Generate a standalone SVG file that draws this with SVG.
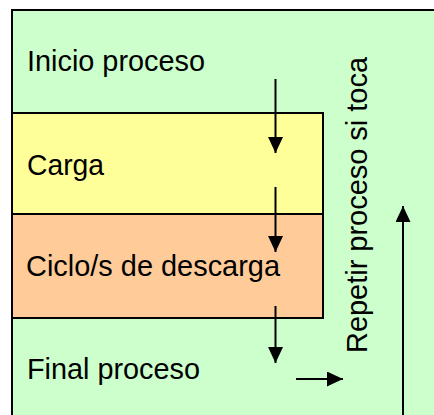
<svg xmlns="http://www.w3.org/2000/svg" width="434" height="415" viewBox="0 0 434 415">
<style>
.lbl{font-family:"Liberation Sans",Arial,sans-serif;font-size:29px;fill:#000}
.box{stroke:#000;stroke-width:2}
.con{stroke:#000;stroke-width:2;fill:none}
</style>
<defs>
<marker id="ah" viewBox="0 0 16 15" refX="16" refY="7.5" markerWidth="16" markerHeight="15" orient="auto" markerUnits="userSpaceOnUse">
<path d="M0,0 L16,7.5 L0,15 Z" fill="#000"/>
</marker>
</defs>
<rect x="0" y="0" width="434" height="415" fill="#fff"/>
<g id="fondo">
<rect class="box" x="12" y="10" width="440" height="420" fill="#CCFFCC"/>
</g>
<g id="inicio">
<text class="lbl" x="27" y="71" textLength="178" lengthAdjust="spacingAndGlyphs">Inicio proceso</text>
</g>
<g id="carga">
<rect class="box" x="12" y="113" width="311" height="101" fill="#FFFF99"/>
<text class="lbl" x="27" y="175" textLength="77" lengthAdjust="spacingAndGlyphs">Carga</text>
</g>
<g id="descarga">
<rect class="box" x="12" y="214" width="311" height="104" fill="#FFCC99"/>
<text class="lbl" x="26" y="276" textLength="254" lengthAdjust="spacingAndGlyphs">Ciclo/s de descarga</text>
</g>
<g id="final">
<text class="lbl" x="27" y="379" textLength="173" lengthAdjust="spacingAndGlyphs">Final proceso</text>
</g>
<g id="repetir">
<text class="lbl" transform="translate(367,353) rotate(-90)" textLength="296" lengthAdjust="spacingAndGlyphs">Repetir proceso si toca</text>
</g>
<g id="connectors">
<line class="con" x1="275.5" y1="79" x2="275.5" y2="153" marker-end="url(#ah)"/>
<line class="con" x1="275.5" y1="187" x2="275.5" y2="252" marker-end="url(#ah)"/>
<line class="con" x1="275.5" y1="306" x2="275.5" y2="363" marker-end="url(#ah)"/>
<line class="con" x1="296" y1="379" x2="343" y2="379" marker-end="url(#ah)"/>
<line class="con" x1="403" y1="415" x2="403" y2="206" marker-end="url(#ah)"/>
</g>
</svg>
